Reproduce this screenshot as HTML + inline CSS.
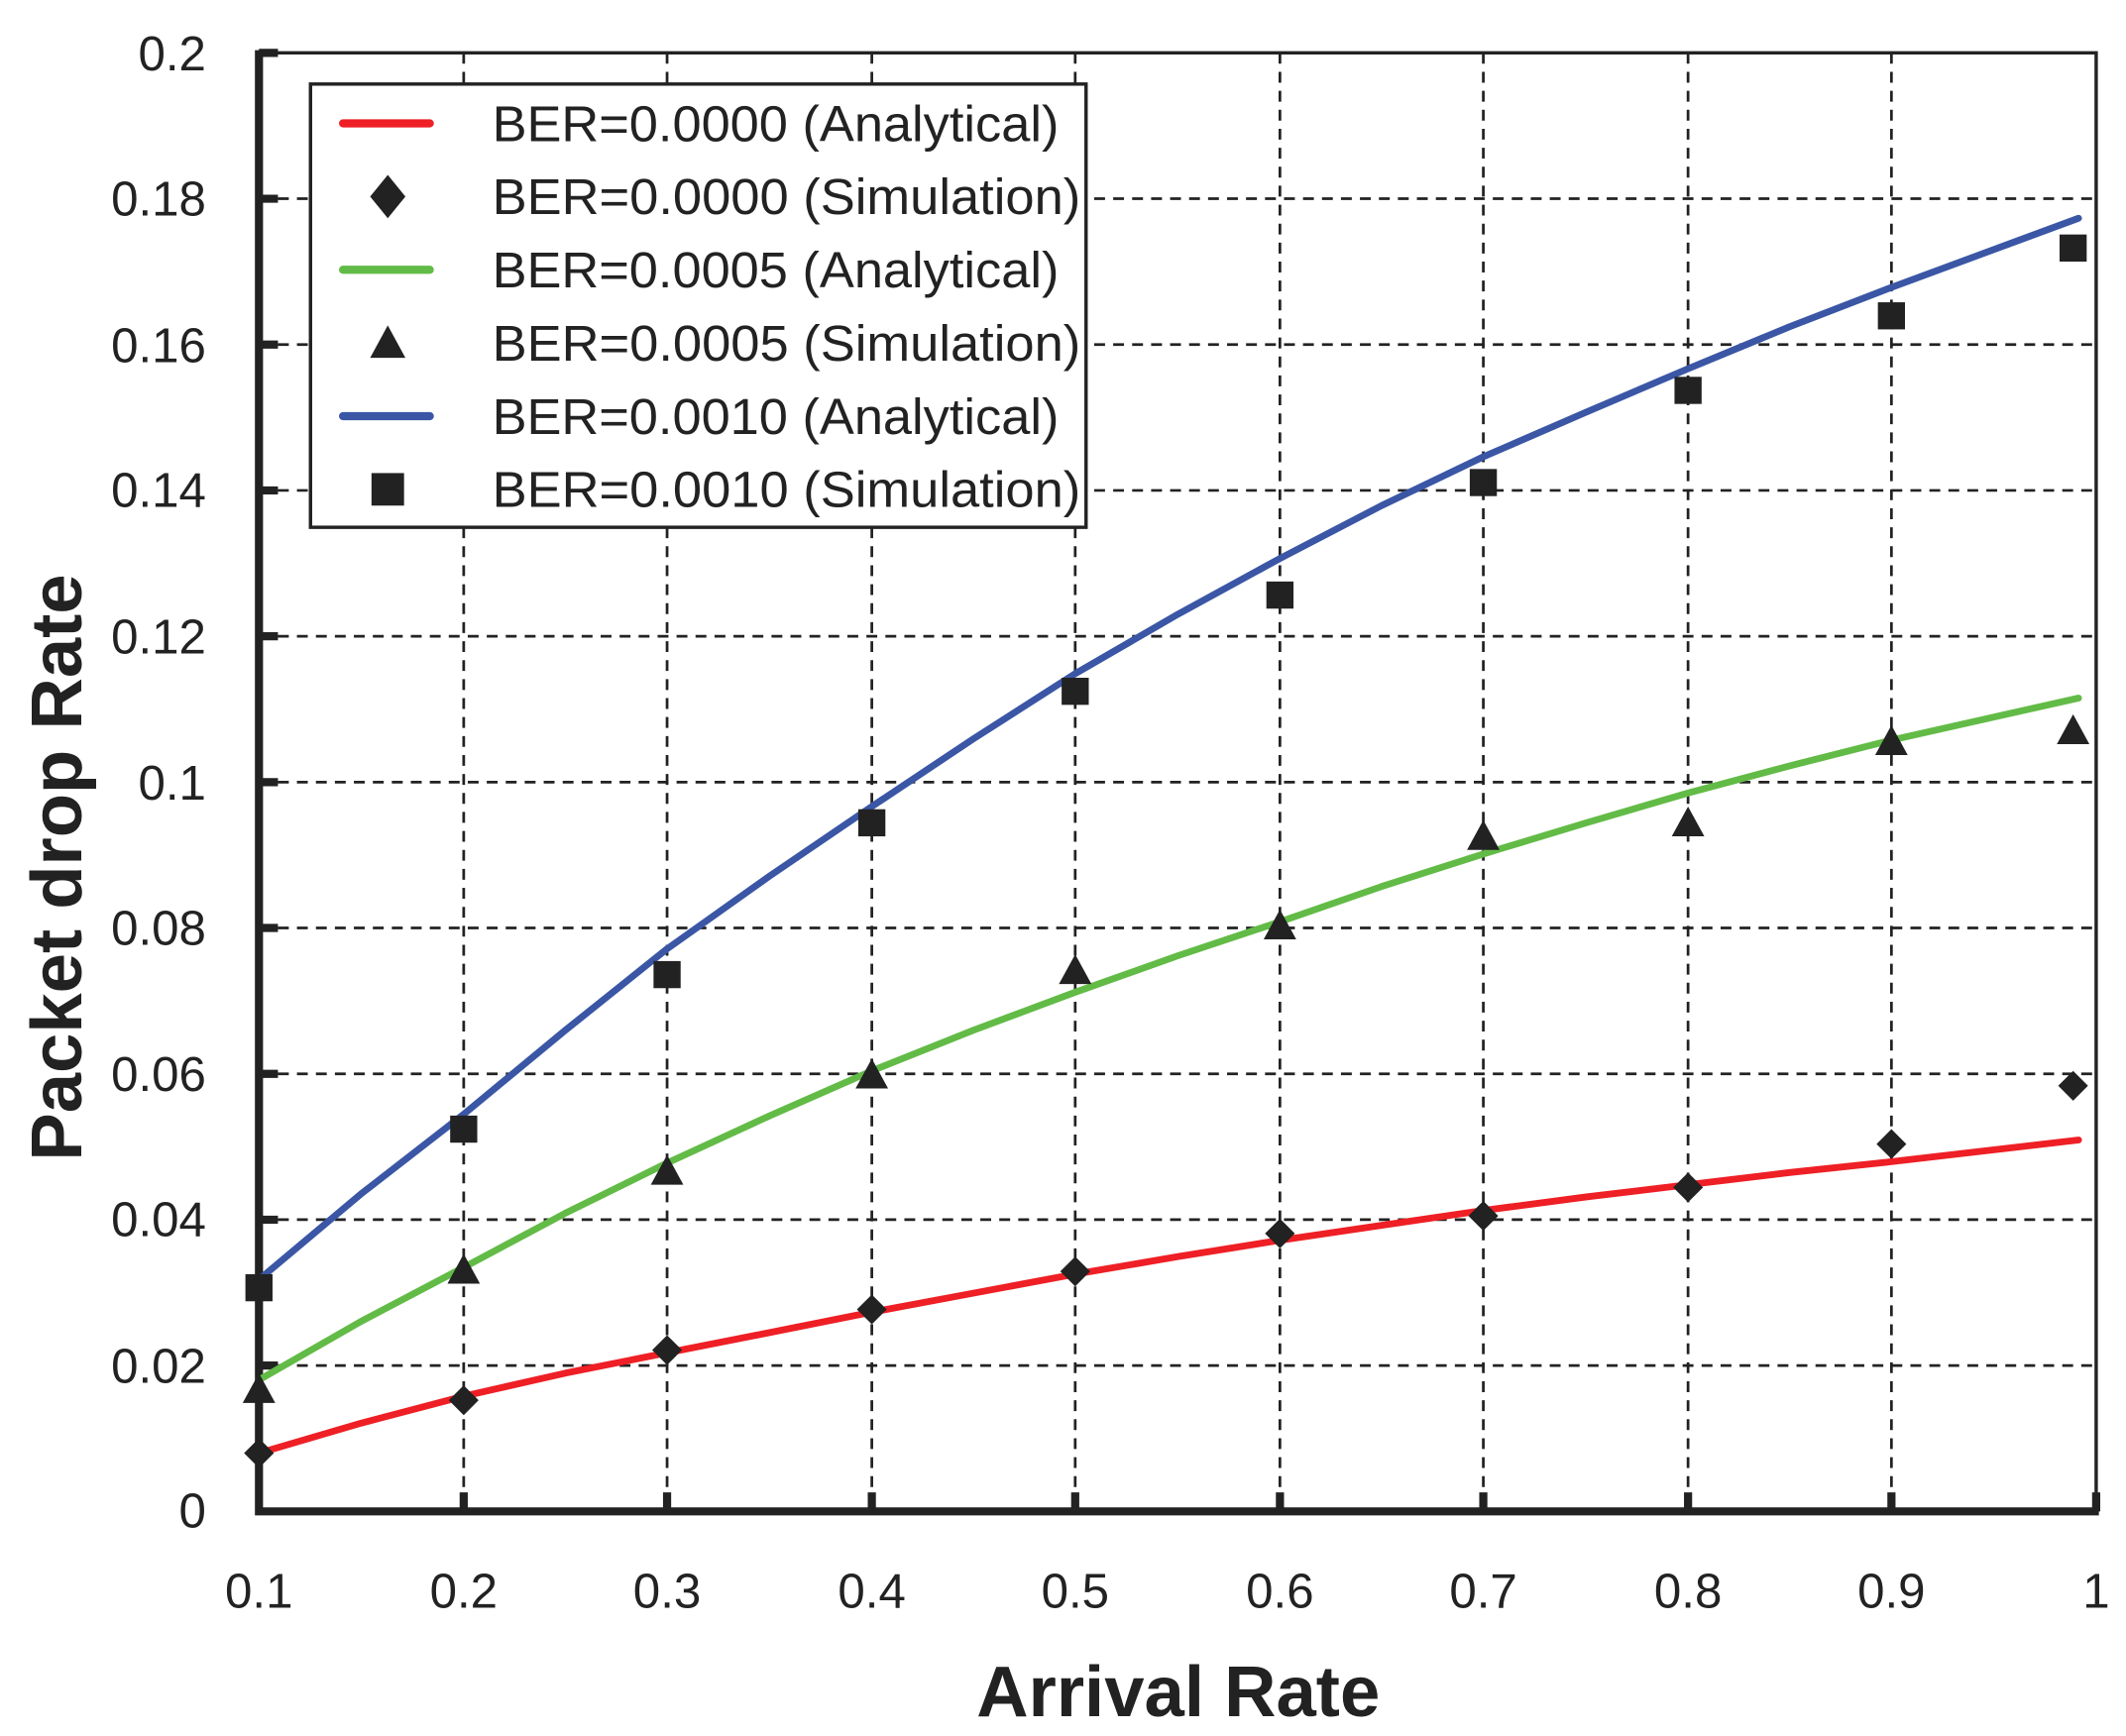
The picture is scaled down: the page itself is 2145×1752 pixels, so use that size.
<!DOCTYPE html>
<html><head><meta charset="utf-8"><style>html,body{margin:0;padding:0;background:#fff}svg{display:block}</style></head>
<body>
<svg width="2145" height="1752" viewBox="0 0 1568 1280.7" preserveAspectRatio="none" xmlns="http://www.w3.org/2000/svg" font-family="Liberation Sans, DejaVu Sans, sans-serif">
<rect width="1568" height="1281" fill="#fff"/>
<g stroke="#222" stroke-width="2" stroke-dasharray="8,6" fill="none">
<path d="M342 39V1115M492 39V1115M643 39V1115M793 39V1115M944 39V1115M1094 39V1115M1245 39V1115M1395 39V1115"/>
<path d="M191 146.6H1546M191 254.2H1546M191 361.8H1546M191 469.4H1546M191 577H1546M191 684.6H1546M191 792.2H1546M191 899.8H1546M191 1007.4H1546"/>
</g>
<path d="M191 39H1546V1115" stroke="#222" stroke-width="2.5" fill="none"/>
<path d="M191 37V1115H1548" stroke="#222" stroke-width="6" fill="none"/>
<g stroke="#222" stroke-width="6">
<path d="M191 39H205M191 146.6H205M191 254.2H205M191 361.8H205M191 469.4H205M191 577H205M191 684.6H205M191 792.2H205M191 899.8H205M191 1007.4H205"/>
<path d="M342 1115V1101M492 1115V1101M643 1115V1101M793 1115V1101M944 1115V1101M1094 1115V1101M1245 1115V1101M1395 1115V1101M1546 1115V1101"/>
</g>
<g font-size="36" fill="#222" text-anchor="end">
<text x="152" y="52">0.2</text><text x="152" y="159">0.18</text><text x="152" y="267">0.16</text><text x="152" y="374">0.14</text><text x="152" y="482">0.12</text><text x="152" y="590">0.1</text><text x="152" y="697">0.08</text><text x="152" y="805">0.06</text><text x="152" y="912">0.04</text><text x="152" y="1020">0.02</text><text x="152" y="1127">0</text>
</g>
<g font-size="36" fill="#222" text-anchor="middle">
<text x="191" y="1186">0.1</text><text x="342" y="1186">0.2</text><text x="492" y="1186">0.3</text><text x="643" y="1186">0.4</text><text x="793" y="1186">0.5</text><text x="944" y="1186">0.6</text><text x="1094" y="1186">0.7</text><text x="1245" y="1186">0.8</text><text x="1395" y="1186">0.9</text><text x="1546" y="1186">1</text>
</g>
<text x="869" y="1266" font-size="53" font-weight="bold" fill="#222" text-anchor="middle">Arrival Rate</text>
<text transform="translate(60,640) rotate(-90)" font-size="53" font-weight="bold" fill="#222" text-anchor="middle">Packet drop Rate</text>
<g fill="none" stroke-width="5" stroke-linejoin="round" stroke-linecap="round">
<polyline stroke="#ee1f25" points="191,1072 266,1050 342,1030 417,1013 492,998 568,983 643,968 718,954 793,940 869,927 944,915 1019,904 1094,893 1170,883 1245,874 1320,865 1395,857 1533,841"/>
<polyline stroke="#62bb46" points="191,1018 266,975 342,935 417,895 492,858 568,823 643,790 718,760 793,732 869,705 944,680 1019,654 1094,630 1170,607 1245,585 1320,565 1395,546 1533,515"/>
<polyline stroke="#3a56a5" points="191,944 266,881 342,822 417,760 492,700 568,646 643,595 718,545 793,497 869,453 944,412 1019,373 1094,337 1170,304 1245,272 1320,241 1395,212 1533,161"/>
</g>
<g fill="#222">
<path d="M191 1061l11 11-11 11-11-11zM342 1022l11 11-11 11-11-11zM492 985l11 11-11 11-11-11zM643 955l11 11-11 11-11-11zM793 927l11 11-11 11-11-11zM944 899l11 11-11 11-11-11zM1094 886l11 11-11 11-11-11zM1245 865l11 11-11 11-11-11zM1395 833l11 11-11 11-11-11zM1529 790l11 11-11 11-11-11z"/>
<path d="M191 1013l12 22h-24zM342 925l12 22h-24zM492 852l12 22h-24zM643 781l12 22h-24zM793 704l12 22h-24zM944 671l12 22h-24zM1094 605l12 22h-24zM1245 595l12 22h-24zM1395 535l12 22h-24zM1529 527l12 22h-24z"/>
<rect x="181" y="940" width="20" height="20"/><rect x="332" y="823" width="20" height="20"/><rect x="482" y="709" width="20" height="20"/><rect x="633" y="597" width="20" height="20"/><rect x="783" y="500" width="20" height="20"/><rect x="934" y="429" width="20" height="20"/><rect x="1084" y="346" width="20" height="20"/><rect x="1235" y="278" width="20" height="20"/><rect x="1385" y="223" width="20" height="20"/><rect x="1519" y="173" width="20" height="20"/>
</g>
<rect x="229" y="62" width="572" height="327" fill="#fff" stroke="#222" stroke-width="2.5"/>
<g stroke-width="6" stroke-linecap="round">
<path d="M253 91H317" stroke="#ee1f25"/><path d="M253 199H317" stroke="#62bb46"/><path d="M253 307H317" stroke="#3a56a5"/>
</g>
<g fill="#222">
<path d="M286 129l13 16-13 16-13-16z"/>
<path d="M286 240l13 24h-26z"/>
<rect x="274" y="349" width="24" height="24"/>
</g>
<g font-size="37" fill="#222" lengthAdjust="spacingAndGlyphs">
<text x="363" y="104" textLength="418" lengthAdjust="spacingAndGlyphs">BER=0.0000 (Analytical)</text>
<text x="363" y="158" textLength="434" lengthAdjust="spacingAndGlyphs">BER=0.0000 (Simulation)</text>
<text x="363" y="212" textLength="418" lengthAdjust="spacingAndGlyphs">BER=0.0005 (Analytical)</text>
<text x="363" y="266" textLength="434" lengthAdjust="spacingAndGlyphs">BER=0.0005 (Simulation)</text>
<text x="363" y="320" textLength="418" lengthAdjust="spacingAndGlyphs">BER=0.0010 (Analytical)</text>
<text x="363" y="374" textLength="434" lengthAdjust="spacingAndGlyphs">BER=0.0010 (Simulation)</text>
</g>
</svg>
</body></html>
